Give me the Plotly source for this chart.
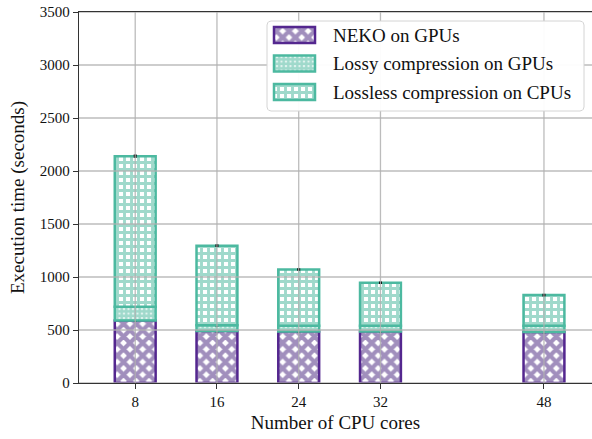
import numpy as np
import plotly.graph_objects as go

# ---------------- data ----------------
cores = [8, 16, 24, 32, 48]
neko = [590, 490, 485, 485, 480]
lossy = [130, 55, 55, 55, 60]
lossless = [1420, 750, 530, 405, 290]
neko_err = [6, 4, 4, 4, 4]
lossy_err = [6, 4, 4, 4, 4]
lossless_err = [8, 6, 5, 5, 6]
series_names = ["NEKO on GPUs", "Lossy compression on GPUs", "Lossless compression on CPUs"]
y_ticks = [0, 500, 1000, 1500, 2000, 2500, 3000, 3500]
x_ticks = [8, 16, 24, 32, 48]

# ---------------- style ----------------
PURPLE = "#54278f"
PURPLE_HATCH = "#43207c"
TEAL = "#4cb9a0"
TEAL_HATCH = "#40b398"
FONT = "Liberation Serif"
W, H = 592, 439
ML, MR, MT, MB = 79, 0, 12, 56
XR = [2.5, 52.7]
YR = [0, 3500]
BAR_W = 4

patterns = [
    dict(shape="x", fgcolor=PURPLE_HATCH, bgcolor="white", size=9, solidity=0.72),
    dict(shape=".", fgcolor=TEAL_HATCH, bgcolor="white", size=4.5, solidity=0.8),
    dict(shape="+", fgcolor=TEAL_HATCH, bgcolor="white", size=7, solidity=0.66),
]
edge_cols = [PURPLE, TEAL, TEAL]

neko_a = np.array(neko)
lossy_a = np.array(lossy)
bases = [np.zeros(len(cores)), neko_a, neko_a + lossy_a]
vals = [neko, lossy, lossless]
errs = [neko_err, lossy_err, lossless_err]

fig = go.Figure()
for i in range(3):
    fig.add_trace(go.Bar(
        x=cores, y=vals[i], base=bases[i], width=BAR_W, name=series_names[i],
        marker=dict(color="white", pattern=patterns[i],
                    line=dict(color=edge_cols[i], width=2.5)),
        error_y=dict(type="data", array=errs[i], color="black", thickness=1.5, width=1.5),
        showlegend=False,
    ))

# grid lines drawn above bars (as in matplotlib default)
gx, gy = [], []
for t in x_ticks:
    gx += [t, t, None]
    gy += [YR[0], YR[1], None]
for t in y_ticks:
    gx += [XR[0], XR[1], None]
    gy += [t, t, None]
fig.add_trace(go.Scatter(x=gx, y=gy, mode="lines", hoverinfo="skip", showlegend=False,
                         line=dict(color="rgba(176,176,176,0.85)", width=1.3)))

# ---------------- custom legend (pixel coordinate overlay axes) ----------------
bx0, bx1, by0, by1, r = 267, 584, 21, 111, 4
def arc(cx, cy, a0, a1):
    a = np.linspace(a0, a1, 8)
    return cx + r * np.cos(a), cy + r * np.sin(a)
pts = [arc(bx1 - r, by0 + r, -np.pi / 2, 0), arc(bx1 - r, by1 - r, 0, np.pi / 2),
       arc(bx0 + r, by1 - r, np.pi / 2, np.pi), arc(bx0 + r, by0 + r, np.pi, 1.5 * np.pi)]
px = np.concatenate([p[0] for p in pts] + [pts[0][0][:1]])
py = np.concatenate([p[1] for p in pts] + [pts[0][1][:1]])
fig.add_trace(go.Scatter(x=px, y=py, xaxis="x2", yaxis="y2", mode="lines", fill="toself",
                         fillcolor="rgba(255,255,255,0.95)", line=dict(color="#d4d4d4", width=1),
                         hoverinfo="skip", showlegend=False))

row_c = [35, 63.5, 92]
for i in range(3):
    fig.add_trace(go.Bar(
        x=[294.5], y=[16], base=[row_c[i] - 8], width=[41], xaxis="x3", yaxis="y3",
        marker=dict(color="white", pattern=patterns[i], line=dict(color=edge_cols[i], width=2.5)),
        hoverinfo="skip", showlegend=False))
    fig.add_annotation(x=331, y=row_c[i], xref="x2", yref="y2", text=series_names[i],
                       showarrow=False, xanchor="left", yanchor="middle",
                       font=dict(family=FONT, size=19, color="#111"))

pix_x = dict(range=[ML, W - MR], visible=False, fixedrange=True)
pix_y = dict(range=[H - MB, MT], visible=False, fixedrange=True)

axis_common = dict(showline=True, linecolor="#333", linewidth=1.3, ticks="outside",
                   ticklen=5, tickwidth=1.2, tickcolor="#333", showgrid=False, zeroline=False,
                   tickfont=dict(family=FONT, size=15, color="#111"), fixedrange=True)

fig.update_layout(
    width=W, height=H, margin=dict(l=ML, r=MR, t=MT, b=MB),
    paper_bgcolor="white", plot_bgcolor="white", barmode="overlay", showlegend=False,
    xaxis=dict(range=XR, tickvals=x_ticks, ticktext=[str(t) for t in x_ticks], mirror=True,
               title=dict(text="Number of CPU cores", font=dict(family=FONT, size=19, color="#111"),
                          standoff=6), **axis_common),
    yaxis=dict(range=YR, tickvals=y_ticks, ticktext=[str(t) for t in y_ticks],
               title=dict(text="Execution time (seconds)", font=dict(family=FONT, size=19, color="#111"),
                          standoff=10), **axis_common),
    xaxis2=dict(overlaying="x", anchor="y2", **pix_x),
    yaxis2=dict(overlaying="y", anchor="x2", **pix_y),
    xaxis3=dict(overlaying="x", anchor="y3", **pix_x),
    yaxis3=dict(overlaying="y", anchor="x3", **pix_y),
)

fig.write_html("out.html")
